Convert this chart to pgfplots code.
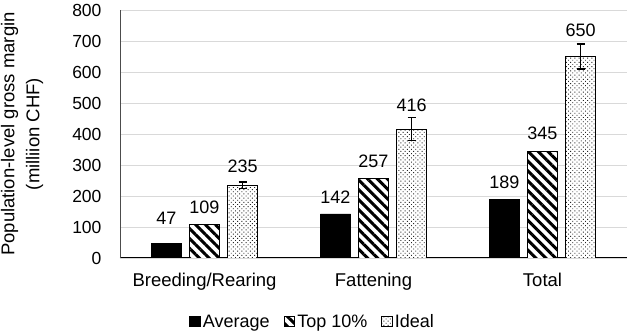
\documentclass[border=0pt]{standalone}
\usepackage{pgfplots}
\pgfplotsset{compat=1.18}
\usepackage{pgfplotstable}
\usetikzlibrary{patterns.meta}
\usepackage{fontspec}
\setmainfont{Liberation Sans}
\definecolor{gridc}{RGB}{217,217,217}

\pgfplotstableread{
x y e off
0 47 0 25
1 142 0 17
2 189 0 17.5
}\avg
\pgfplotstableread{
x y e off
0 109 0 17
1 257 0 17
2 345 0 18
}\topten
\pgfplotstableread{
x y e off
0 235 10 19
1 416 37 24
2 650 40 26
}\ideal

\begin{document}
\begin{tikzpicture}
\path[use as bounding box] (-120pt,-78pt) rectangle (510pt,258pt);
\begin{axis}[
  scale only axis,
  width=507pt, height=248pt,
  xmin=-0.5, xmax=2.5,
  ymin=0, ymax=800,
  ytick={0,100,...,800},
  xtick={0,1,2},
  xticklabels={Breeding/Rearing, Fattening, Total},
  major tick length=0pt,
  ymajorgrids,
  grid style={gridc, line width=0.8pt},
  axis x line*=bottom,
  axis y line*=left,
  x axis line style={black, line width=1pt, -},
  y axis line style={black!70, line width=0.8pt, -},
  tick label style={font=\fontsize{17.5}{19}\selectfont},
  xticklabel style={font=\fontsize{18.5}{20}\selectfont, yshift=-12pt},
  /pgf/number format/assume math mode=true,
  yticklabel style={xshift=-15pt},
  ylabel={Population-level gross margin\\(milliion CHF)},
  ylabel style={align=center, font=\fontsize{18.5}{25}\selectfont, at={(axis description cs:-0.1933,0.5)}, anchor=center},
  ybar,
  bar width=0.18,
  legend style={
    at={(0.38,-0.258)}, anchor=center,
    legend columns=3, draw=none, inner sep=0pt,
    font=\fontsize{18}{20}\selectfont,
    /tikz/every even column/.append style={column sep=12pt},
  },
  legend image code/.code={
    \draw[#1, line width=0.8pt] (0cm,-0.17cm) rectangle (0.38cm,0.21cm);
  },
  nodes near coords,
  nodes near coords style={font=\fontsize{18}{20}\selectfont, anchor=center, yshift=\myoff pt},
  visualization depends on={\thisrow{off}\as\myoff},
]
\addplot[bar shift=-0.225, fill=black, draw=black, line width=0.8pt] table[x=x,y=y] {\avg};
\addlegendentry{Average}
\addplot[bar shift=0, draw=black, line width=0.8pt, fill=white,
  postaction={pattern={Lines[angle=-45, distance=7pt, line width=3pt]}}] table[x=x,y=y] {\topten};
\addlegendentry{Top 10\%}
\addplot[bar shift=0.225, draw=black, line width=0.8pt, fill=white,
  postaction={pattern={Dots[angle=45, distance=3pt, radius=0.65pt]}, pattern color=black!85},
  error bars/.cd, y dir=both, y explicit,
  error bar style={line width=1.3pt, black},
  error mark options={rotate=90, mark size=4pt, line width=1.3pt}]
  table[x=x,y=y,y error=e] {\ideal};
\addlegendentry{Ideal}
\end{axis}
\end{tikzpicture}
\end{document}
